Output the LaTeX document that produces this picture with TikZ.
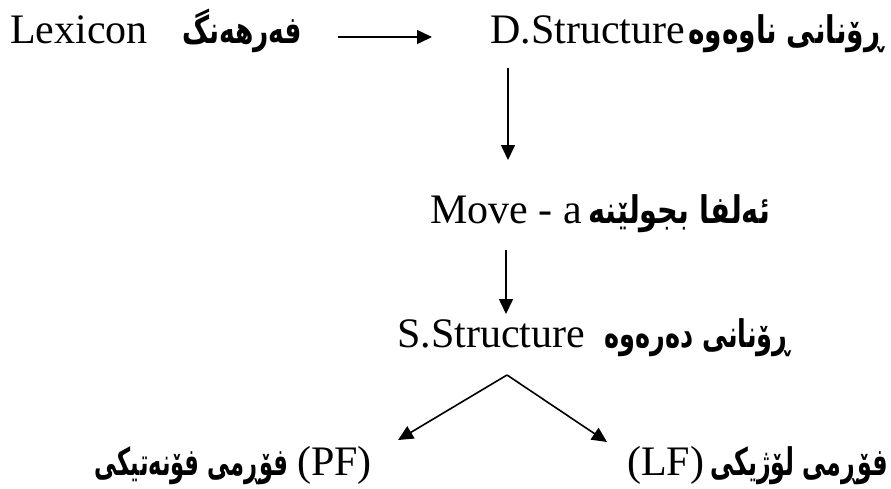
\documentclass[tikz,border=0pt]{standalone}
\usepackage{fontspec}
\usepackage{graphicx}
\usetikzlibrary{arrows.meta}
\setmainfont{Liberation Serif}
\newfontfamily\kurdfont[Script=Arabic]{DejaVu Sans}
\TeXXeTstate=1
% Kurdish text, squeezed to the width it has in the picture
\newcommand{\kurd}[2]{\resizebox{#1}{\height}{\kurdfont\bfseries #2}}

\begin{document}
\begin{tikzpicture}[x=1pt,y=-1pt]
\tikzstyle{every node}+=[inner sep=0pt,anchor=base west]
\tikzstyle{lat}=[font=\fontsize{42}{50}\selectfont]
\tikzstyle{krd}=[font=\fontsize{38}{44}\selectfont]
\tikzstyle{arr}=[line width=1.6pt,-{Triangle[length=15pt,width=14pt]}]
\useasboundingbox (0,0) rectangle (891,488);
% top row
\node[lat] (lex) at (10,43) {Lexicon};
\node[krd] (farh) at (182,43) {\kurd{120pt}{\beginR فەرهەنگ\endR}};
\node[lat] (dstr) at (490,43) {D.Structure};
\node[krd] (dstrk) at (688,43) {\kurd{195pt}{\beginR ڕۆنانی ناوەوە\endR}};
% middle
\node[lat] (move) at (430,223) {Move - a};
\node[krd] (movek) at (588,223) {\kurd{182pt}{\beginR ئەلفا بجولێنە\endR}};
\node[lat] (sstr) at (397,347) {S.Structure};
\node[krd] (sstrk) at (604,347) {\kurd{186pt}{\beginR ڕۆنانی دەرەوە\endR}};
% bottom row
\node[krd,anchor=base east] (pfk) at (289,475) {\kurd{194pt}{\beginR فۆڕمی فۆنەتیکی\endR}};
\node[lat] (pf) at (297,475) {(PF)};
\node[lat] (lf) at (627,475) {(LF)};
\node[krd] (lfk) at (710,475) {\kurd{178pt}{\beginR فۆڕمی لۆژیکی\endR}};
% arrows
\draw[arr] ([xshift=36pt,yshift=6pt]farh.base east) -- ([xshift=-58pt,yshift=6pt]dstr.base west);
\draw[arr] ([xshift=18pt,yshift=-25pt]dstr.base west) -- ([xshift=78pt,yshift=63pt]move.base west);
\draw[arr] ([xshift=76pt,yshift=-27pt]move.base west) -- ([xshift=109pt,yshift=33pt]sstr.base west);
\coordinate (apex) at ([xshift=110pt,yshift=-28pt]sstr.base west);
\draw[arr] (apex) -- ([xshift=26pt,yshift=35pt]pf.base east);
\draw[arr] (apex) -- ([xshift=-20pt,yshift=33pt]lf.base west);
\end{tikzpicture}
\end{document}
